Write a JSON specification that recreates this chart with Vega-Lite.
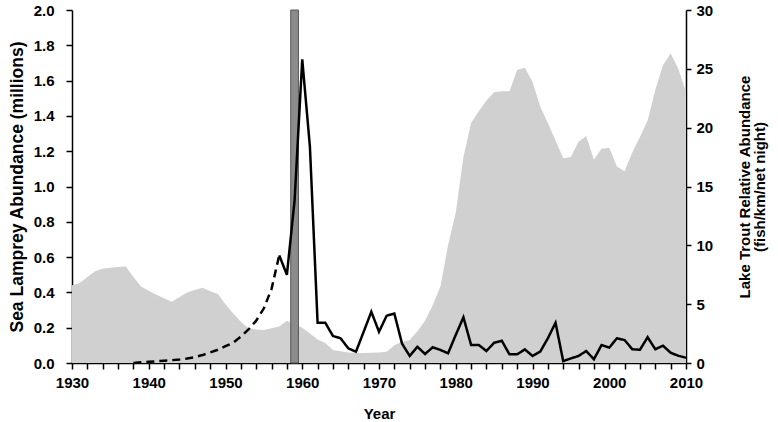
{
  "$schema": "https://vega.github.io/schema/vega-lite/v6.json",
  "width": 614,
  "height": 353,
  "autosize": "none",
  "padding": {"left": 72, "top": 10, "right": 92, "bottom": 59},
  "background": "white",
  "config": {
    "view": {"stroke": null},
    "axis": {
      "labelFont": "Liberation Sans",
      "labelFontWeight": "bold",
      "labelFontSize": 15,
      "labelColor": "black",
      "titleFont": "Liberation Sans",
      "titleFontWeight": "bold",
      "titleFontSize": 15,
      "titleColor": "black",
      "domainColor": "black",
      "domainWidth": 1.5,
      "tickColor": "black",
      "tickWidth": 1.5,
      "grid": false,
      "labelOverlap": false
    }
  },
  "datasets": {
    "trout": [
      {"year": 1930, "trout": 6.6}, {"year": 1931, "trout": 6.8}, {"year": 1932, "trout": 7.3},
      {"year": 1933, "trout": 7.8}, {"year": 1934, "trout": 8.0}, {"year": 1935, "trout": 8.1},
      {"year": 1936, "trout": 8.15}, {"year": 1937, "trout": 8.2}, {"year": 1938, "trout": 7.3},
      {"year": 1939, "trout": 6.5}, {"year": 1940, "trout": 6.15}, {"year": 1941, "trout": 5.8},
      {"year": 1942, "trout": 5.5}, {"year": 1943, "trout": 5.2}, {"year": 1944, "trout": 5.6},
      {"year": 1945, "trout": 6.0}, {"year": 1946, "trout": 6.2}, {"year": 1947, "trout": 6.4},
      {"year": 1948, "trout": 6.1}, {"year": 1949, "trout": 5.86}, {"year": 1950, "trout": 5.0},
      {"year": 1951, "trout": 4.2}, {"year": 1952, "trout": 3.5}, {"year": 1953, "trout": 2.95},
      {"year": 1954, "trout": 2.85}, {"year": 1955, "trout": 2.8}, {"year": 1956, "trout": 2.95},
      {"year": 1957, "trout": 3.1}, {"year": 1958, "trout": 3.6}, {"year": 1959, "trout": 3.3},
      {"year": 1960, "trout": 3.0}, {"year": 1961, "trout": 2.5}, {"year": 1962, "trout": 2.0},
      {"year": 1963, "trout": 1.7}, {"year": 1964, "trout": 1.1}, {"year": 1965, "trout": 1.0},
      {"year": 1966, "trout": 0.9}, {"year": 1967, "trout": 0.85}, {"year": 1968, "trout": 0.85},
      {"year": 1969, "trout": 0.88}, {"year": 1970, "trout": 0.9}, {"year": 1971, "trout": 0.96},
      {"year": 1972, "trout": 1.5}, {"year": 1973, "trout": 1.8}, {"year": 1974, "trout": 1.95},
      {"year": 1975, "trout": 2.7}, {"year": 1976, "trout": 3.6}, {"year": 1977, "trout": 4.9},
      {"year": 1978, "trout": 6.5}, {"year": 1979, "trout": 10.0}, {"year": 1980, "trout": 12.8},
      {"year": 1981, "trout": 17.5}, {"year": 1982, "trout": 20.4}, {"year": 1983, "trout": 21.4},
      {"year": 1984, "trout": 22.3}, {"year": 1985, "trout": 23.0}, {"year": 1986, "trout": 23.1},
      {"year": 1987, "trout": 23.1}, {"year": 1988, "trout": 24.9}, {"year": 1989, "trout": 25.1},
      {"year": 1990, "trout": 23.9}, {"year": 1991, "trout": 21.8}, {"year": 1992, "trout": 20.4},
      {"year": 1993, "trout": 18.9}, {"year": 1994, "trout": 17.4}, {"year": 1995, "trout": 17.5},
      {"year": 1996, "trout": 18.8}, {"year": 1997, "trout": 19.3}, {"year": 1998, "trout": 17.3},
      {"year": 1999, "trout": 18.2}, {"year": 2000, "trout": 18.3}, {"year": 2001, "trout": 16.7},
      {"year": 2002, "trout": 16.3}, {"year": 2003, "trout": 17.9}, {"year": 2004, "trout": 19.2},
      {"year": 2005, "trout": 20.6}, {"year": 2006, "trout": 23.2}, {"year": 2007, "trout": 25.3},
      {"year": 2008, "trout": 26.3}, {"year": 2009, "trout": 25.0}, {"year": 2010, "trout": 23.0}
    ],
    "lamprey": [
      {"year": 1938, "lamprey": 0.0, "series": "estimated"},
      {"year": 1939, "lamprey": 0.004, "series": "estimated"},
      {"year": 1940, "lamprey": 0.007, "series": "estimated"},
      {"year": 1941, "lamprey": 0.01, "series": "estimated"},
      {"year": 1942, "lamprey": 0.013, "series": "estimated"},
      {"year": 1943, "lamprey": 0.016, "series": "estimated"},
      {"year": 1944, "lamprey": 0.02, "series": "estimated"},
      {"year": 1945, "lamprey": 0.025, "series": "estimated"},
      {"year": 1946, "lamprey": 0.033, "series": "estimated"},
      {"year": 1947, "lamprey": 0.045, "series": "estimated"},
      {"year": 1948, "lamprey": 0.06, "series": "estimated"},
      {"year": 1949, "lamprey": 0.075, "series": "estimated"},
      {"year": 1950, "lamprey": 0.095, "series": "estimated"},
      {"year": 1951, "lamprey": 0.115, "series": "estimated"},
      {"year": 1952, "lamprey": 0.15, "series": "estimated"},
      {"year": 1953, "lamprey": 0.19, "series": "estimated"},
      {"year": 1954, "lamprey": 0.24, "series": "estimated"},
      {"year": 1955, "lamprey": 0.31, "series": "estimated"},
      {"year": 1956, "lamprey": 0.42, "series": "estimated"},
      {"year": 1957, "lamprey": 0.61, "series": "estimated"},
      {"year": 1957, "lamprey": 0.61, "series": "observed"},
      {"year": 1958, "lamprey": 0.5, "series": "observed"},
      {"year": 1959, "lamprey": 0.92, "series": "observed"},
      {"year": 1960, "lamprey": 1.72, "series": "observed"},
      {"year": 1961, "lamprey": 1.225, "series": "observed"},
      {"year": 1962, "lamprey": 0.228, "series": "observed"},
      {"year": 1963, "lamprey": 0.228, "series": "observed"},
      {"year": 1964, "lamprey": 0.153, "series": "observed"},
      {"year": 1965, "lamprey": 0.14, "series": "observed"},
      {"year": 1966, "lamprey": 0.083, "series": "observed"},
      {"year": 1967, "lamprey": 0.064, "series": "observed"},
      {"year": 1968, "lamprey": 0.177, "series": "observed"},
      {"year": 1969, "lamprey": 0.29, "series": "observed"},
      {"year": 1970, "lamprey": 0.177, "series": "observed"},
      {"year": 1971, "lamprey": 0.268, "series": "observed"},
      {"year": 1972, "lamprey": 0.28, "series": "observed"},
      {"year": 1973, "lamprey": 0.11, "series": "observed"},
      {"year": 1974, "lamprey": 0.04, "series": "observed"},
      {"year": 1975, "lamprey": 0.092, "series": "observed"},
      {"year": 1976, "lamprey": 0.051, "series": "observed"},
      {"year": 1977, "lamprey": 0.089, "series": "observed"},
      {"year": 1978, "lamprey": 0.074, "series": "observed"},
      {"year": 1979, "lamprey": 0.055, "series": "observed"},
      {"year": 1980, "lamprey": 0.159, "series": "observed"},
      {"year": 1981, "lamprey": 0.259, "series": "observed"},
      {"year": 1982, "lamprey": 0.102, "series": "observed"},
      {"year": 1983, "lamprey": 0.102, "series": "observed"},
      {"year": 1984, "lamprey": 0.068, "series": "observed"},
      {"year": 1985, "lamprey": 0.115, "series": "observed"},
      {"year": 1986, "lamprey": 0.126, "series": "observed"},
      {"year": 1987, "lamprey": 0.049, "series": "observed"},
      {"year": 1988, "lamprey": 0.049, "series": "observed"},
      {"year": 1989, "lamprey": 0.077, "series": "observed"},
      {"year": 1990, "lamprey": 0.04, "series": "observed"},
      {"year": 1991, "lamprey": 0.064, "series": "observed"},
      {"year": 1992, "lamprey": 0.14, "series": "observed"},
      {"year": 1993, "lamprey": 0.228, "series": "observed"},
      {"year": 1994, "lamprey": 0.011, "series": "observed"},
      {"year": 1995, "lamprey": 0.026, "series": "observed"},
      {"year": 1996, "lamprey": 0.04, "series": "observed"},
      {"year": 1997, "lamprey": 0.068, "series": "observed"},
      {"year": 1998, "lamprey": 0.021, "series": "observed"},
      {"year": 1999, "lamprey": 0.102, "series": "observed"},
      {"year": 2000, "lamprey": 0.087, "series": "observed"},
      {"year": 2001, "lamprey": 0.14, "series": "observed"},
      {"year": 2002, "lamprey": 0.13, "series": "observed"},
      {"year": 2003, "lamprey": 0.078, "series": "observed"},
      {"year": 2004, "lamprey": 0.075, "series": "observed"},
      {"year": 2005, "lamprey": 0.146, "series": "observed"},
      {"year": 2006, "lamprey": 0.078, "series": "observed"},
      {"year": 2007, "lamprey": 0.098, "series": "observed"},
      {"year": 2008, "lamprey": 0.058, "series": "observed"},
      {"year": 2009, "lamprey": 0.041, "series": "observed"},
      {"year": 2010, "lamprey": 0.03, "series": "observed"}
    ],
    "bar": [{"start": 1958.5, "end": 1959.5}]
  },
  "layer": [
    {
      "data": {"name": "trout"},
      "mark": {"type": "area", "color": "#d0d0d0", "interpolate": "linear"},
      "encoding": {
        "x": {
          "field": "year", "type": "quantitative",
          "scale": {"domain": [1930, 2010], "nice": false, "zero": false},
          "axis": {
            "orient": "bottom",
            "title": "Year",
            "values": [1930, 1940, 1950, 1960, 1970, 1980, 1990, 2000, 2010],
            "format": "d",
            "labelOverlap": false,
            "labelFlush": false,
            "tickSize": 6,
            "labelPadding": 6,
            "titlePadding": 16
          }
        },
        "y": {
          "field": "trout", "type": "quantitative",
          "scale": {"domain": [0, 30], "nice": false},
          "axis": {
            "orient": "right",
            "title": ["Lake Trout Relative Abundance", "(fish/km/net night)"],
            "titleAngle": -90,
            "titleLineHeight": 15,
            "values": [0, 5, 10, 15, 20, 25, 30],
            "tickSize": 5,
            "labelPadding": 5,
            "titlePadding": 25,
            "labelFlush": false
          }
        }
      }
    },
    {
      "data": {"name": "bar"},
      "mark": {"type": "rect", "color": "#8c8c8c", "stroke": "#555555", "strokeWidth": 1},
      "encoding": {
        "x": {
          "field": "start", "type": "quantitative",
          "axis": {
            "orient": "bottom",
            "title": null,
            "labels": false,
            "domain": false,
            "values": [1932,1934,1936,1938,1942,1944,1946,1948,1952,1954,1956,1958,1962,1964,1966,1968,1972,1974,1976,1978,1982,1984,1986,1988,1992,1994,1996,1998,2002,2004,2006,2008],
            "tickSize": 6
          }
        },
        "x2": {"field": "end"}
      }
    },
    {
      "data": {"name": "lamprey"},
      "mark": {"type": "line", "color": "black", "strokeWidth": 2.5},
      "encoding": {
        "x": {"field": "year", "type": "quantitative", "axis": null},
        "y": {
          "field": "lamprey", "type": "quantitative",
          "scale": {"domain": [0, 2], "nice": false},
          "axis": {
            "orient": "left",
            "title": "Sea Lamprey Abundance (millions)",
            "titleFontSize": 17.5,
            "values": [0, 0.2, 0.4, 0.6, 0.8, 1.0, 1.2, 1.4, 1.6, 1.8, 2.0],
            "format": ".1f",
            "tickSize": 6,
            "labelPadding": 12,
            "titlePadding": 7,
            "labelFlush": false
          }
        },
        "strokeDash": {
          "field": "series", "type": "nominal",
          "scale": {"domain": ["estimated", "observed"], "range": [[8, 5], [1, 0]]},
          "legend": null
        }
      }
    }
  ],
  "resolve": {"scale": {"y": "independent"}, "axis": {"x": "independent"}}
}
